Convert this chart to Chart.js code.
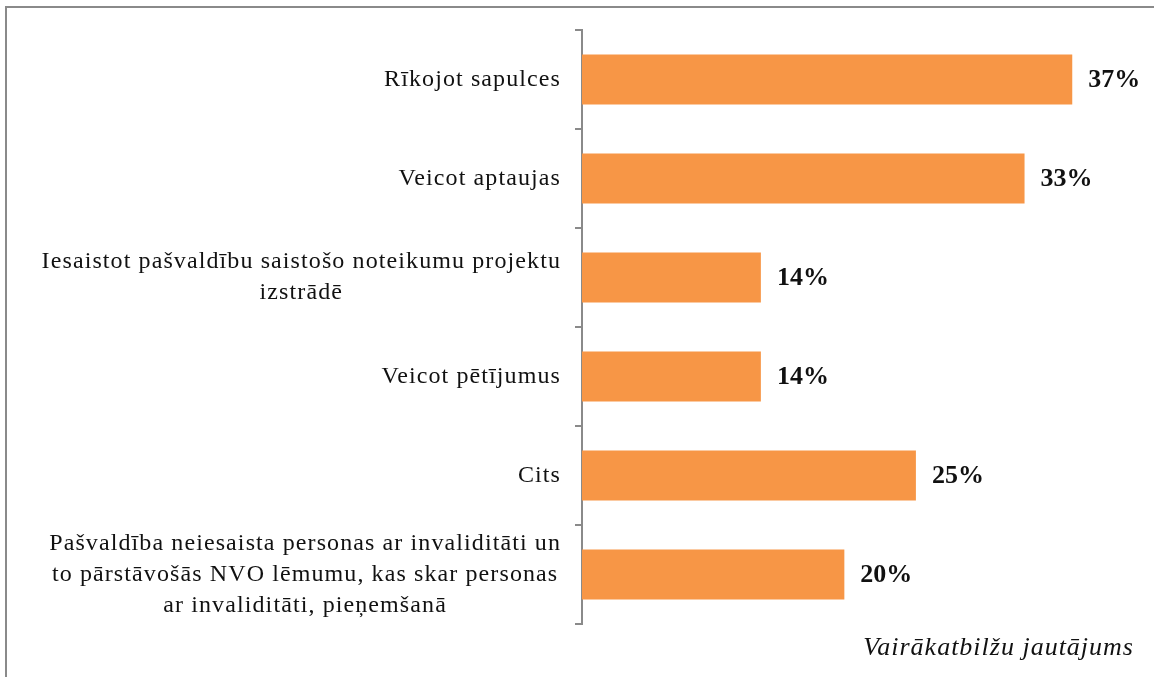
<!DOCTYPE html>
<html>
<head>
<meta charset="utf-8">
<script src="https://cdn.jsdelivr.net/npm/chart.js@4/dist/chart.umd.min.js"></script>
<style>
body{margin:0;background:#fff;}
#wrap{position:relative;width:1154px;height:677px;overflow:hidden;}
#frame{position:absolute;left:5px;top:6px;width:1300px;height:800px;border-left:2px solid #8a8a8a;border-top:2px solid #8a8a8a;}
#note{position:absolute;right:20px;top:632px;font:italic 26px "Liberation Serif",serif;letter-spacing:1px;color:#111;}
canvas{position:absolute;left:0;top:0;}
</style>
</head>
<body>
<div id="wrap">
<div id="frame"></div>
<canvas id="chart" width="1154" height="677"></canvas>
<div id="note">Vairākatbilžu jautājums</div>
</div>
<script>
// answers, one array per label (lines of the wrapped text)
const categories = [
  ["Rīkojot sapulces"],
  ["Veicot aptaujas"],
  ["Iesaistot pašvaldību saistošo noteikumu projektu", "izstrādē"],
  ["Veicot pētījumus"],
  ["Cits"],
  ["Pašvaldība neiesaista personas ar invaliditāti un", "to pārstāvošās NVO lēmumu, kas skar personas", "ar invaliditāti, pieņemšanā"]
];
// share of respondents, %
const values = [37, 33.4, 13.5, 13.5, 25.2, 19.8];

const orange = "#F79646";
const grey = "#8a8a8a";

// category labels: block right aligned at the axis, lines centered inside
const labelPlugin = {
  id: "catLabels",
  afterDraw(chart){
    const ctx = chart.ctx;
    const y = chart.scales.y;
    ctx.save();
    ctx.font = '24px "Liberation Serif", serif';
    ctx.letterSpacing = "1.1px";
    ctx.fillStyle = "#111";
    ctx.textBaseline = "middle";
    ctx.textAlign = "center";
    const right = y.right - 7 - 14;
    const lh = 31;
    categories.forEach((lines, i) => {
      const cy = y.getPixelForTick(i);
      const w = Math.max(...lines.map(l => ctx.measureText(l).width));
      const cx = right - w / 2;
      lines.forEach((l, j) => {
        ctx.fillText(l, cx, cy + (j - (lines.length - 1) / 2) * lh);
      });
    });
    ctx.restore();
  }
};

// value labels at bar ends
const valuePlugin = {
  id: "valLabels",
  afterDatasetsDraw(chart){
    const ctx = chart.ctx;
    const meta = chart.getDatasetMeta(0);
    ctx.save();
    ctx.font = 'bold 26px "Liberation Serif", serif';
    ctx.fillStyle = "#111";
    ctx.textBaseline = "middle";
    ctx.textAlign = "left";
    meta.data.forEach((bar, i) => {
      ctx.fillText(Math.round(values[i]) + "%", bar.x + 16, bar.y + 1);
    });
    ctx.restore();
  }
};

new Chart(document.getElementById("chart"), {
  type: "bar",
  data: {
    labels: categories,
    datasets: [{
      data: values,
      backgroundColor: orange,
      barPercentage: 0.505,
      categoryPercentage: 1
    }]
  },
  options: {
    indexAxis: "y",
    responsive: false,
    animation: false,
    layout: {padding: {top: 30, bottom: 53, right: 42, left: 0}},
    plugins: {legend: {display: false}, tooltip: {enabled: false}},
    scales: {
      x: {display: false, min: 0, max: 40},
      y: {
        grid: {drawOnChartArea: false, color: grey, lineWidth: 2, tickLength: 7, offset: true},
        border: {color: grey, width: 2},
        ticks: {display: false},
        afterFit(scale){ scale.width = 582; }
      }
    }
  },
  plugins: [labelPlugin, valuePlugin]
});
</script>
</body>
</html>
